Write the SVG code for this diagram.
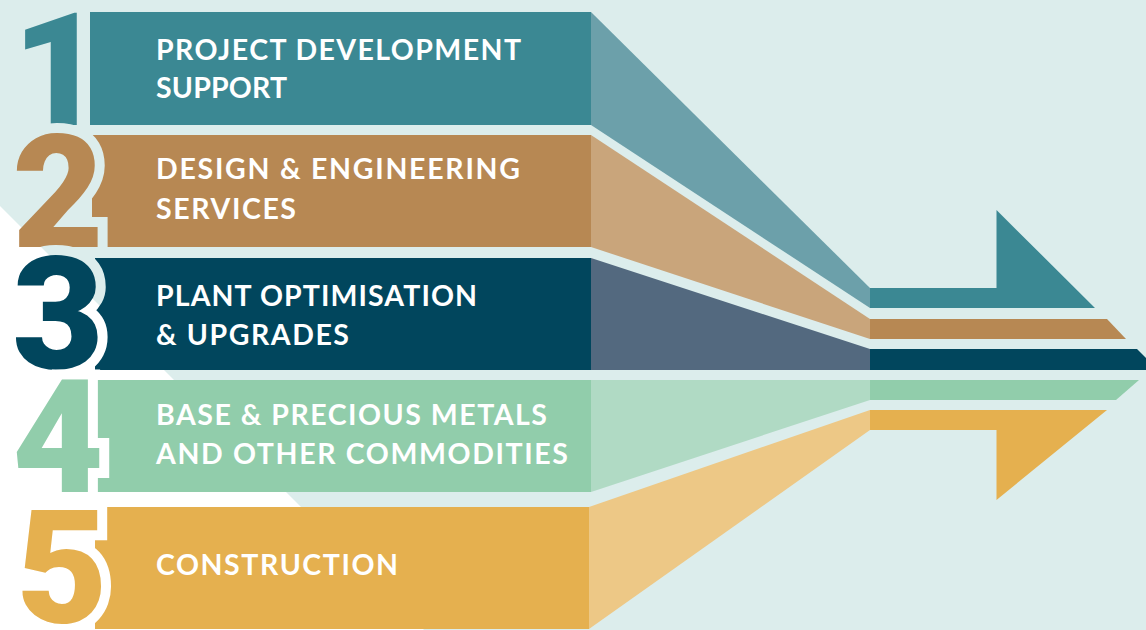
<svg xmlns="http://www.w3.org/2000/svg" width="1146" height="630" viewBox="0 0 1146 630">
  <defs>
    <pattern id="bgpat" patternUnits="userSpaceOnUse" x="0" y="0" width="1146" height="630">
      <rect width="1146" height="630" fill="#dcedec"/>
      <polygon points="0,206 424,630 0,630" fill="#ffffff"/>
    </pattern>
    <style>
      .lbl { font-family: Lato, "Liberation Sans", sans-serif; font-weight: 700; font-size: 28.5px; fill: #ffffff; }
      .num { font-family: Roboto, "Liberation Sans", sans-serif; font-weight: 900; font-size: 158px; text-anchor: middle; stroke: url(#bgpat); stroke-width: 20px; paint-order: stroke; stroke-linejoin: miter; }
    </style>
  </defs>

  <rect id="background" width="1146" height="630" fill="url(#bgpat)"/>

  <g id="connectors">
    <polygon points="591,12 870,288 870,308 591,125" fill="#6ca0aa"/>
    <polygon points="591,135 870,319 870,339 591,247" fill="#c9a57b"/>
    <polygon points="591,258 870,349 870,370 591,370" fill="#53697f"/>
    <polygon points="591,380 870,380 870,400 591,492" fill="#b0dac4"/>
    <polygon points="589,507 870,410 870,430 589,629" fill="#edc886"/>
    <polygon points="870,288 996.5,288 996.5,210 1095,308 870,308" fill="#3b8893"/>
    <polygon points="870,319 1107,319 1126,339 870,339" fill="#b78853"/>
    <polygon points="870,349 1137,349 1158,370 870,370" fill="#01465d"/>
    <polygon points="870,380 1139,380 1116,400 870,400" fill="#91cdab"/>
    <polygon points="870,410 1107,410 996.5,500 996.5,430 870,430" fill="#e5b04f"/>
  </g>

  <g id="node1">
    <rect x="90" y="12" width="501" height="113" fill="#3b8893"/>
    <text class="num" x="58" y="125" fill="#3b8893">1</text>
    <text class="lbl" x="156" y="59.5" textLength="365" lengthAdjust="spacing">PROJECT DEVELOPMENT</text>
    <text class="lbl" x="156" y="97.7" textLength="131" lengthAdjust="spacing">SUPPORT</text>
  </g>
  <g id="node2">
    <rect x="92" y="135" width="499" height="112" fill="#b78853"/>
    <text class="num" x="58" y="247" fill="#b78853">2</text>
    <text class="lbl" x="156" y="179.3" textLength="364" lengthAdjust="spacing">DESIGN &amp; ENGINEERING</text>
    <text class="lbl" x="156" y="219" textLength="140" lengthAdjust="spacing">SERVICES</text>
  </g>
  <g id="node3">
    <rect x="95" y="258" width="496" height="112" fill="#01465d"/>
    <text class="num" x="58" y="368" fill="#01465d">3</text>
    <text class="lbl" x="156" y="306" textLength="321" lengthAdjust="spacing">PLANT OPTIMISATION</text>
    <text class="lbl" x="156" y="345" textLength="193" lengthAdjust="spacing">&amp; UPGRADES</text>
  </g>
  <g id="node4">
    <rect x="80" y="380" width="511" height="112" fill="#91cdab"/>
    <text class="num" x="58" y="492" fill="#91cdab">4</text>
    <text class="lbl" x="156" y="425" textLength="391" lengthAdjust="spacing">BASE &amp; PRECIOUS METALS</text>
    <text class="lbl" x="156" y="464.3" textLength="412" lengthAdjust="spacing">AND OTHER COMMODITIES</text>
  </g>
  <g id="node5">
    <rect x="95" y="507" width="494" height="122" fill="#e5b04f"/>
    <text class="num" x="62" y="622" fill="#e5b04f">5</text>
    <text class="lbl" x="156" y="575" textLength="242" lengthAdjust="spacing">CONSTRUCTION</text>
  </g>
</svg>
